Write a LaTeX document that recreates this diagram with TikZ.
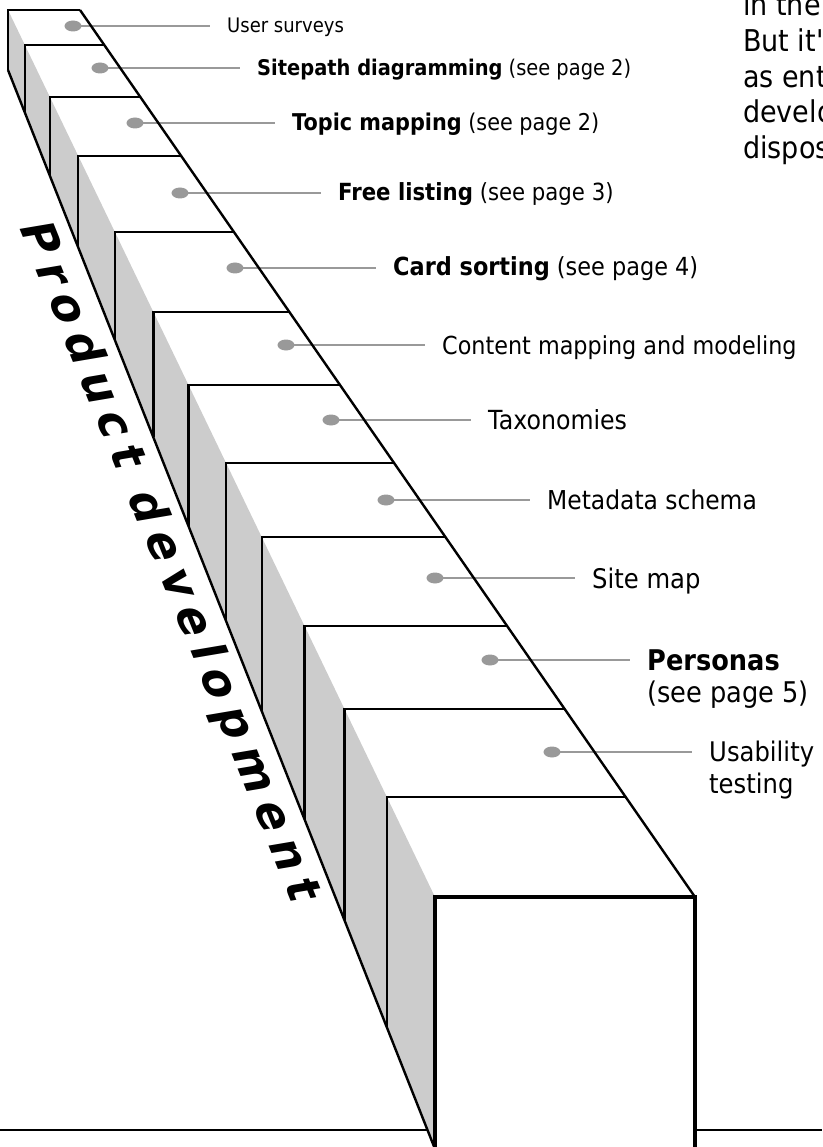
\documentclass[tikz,border=0pt]{standalone}
\usepackage{fontspec}
\setmainfont{DejaVu Sans}[FakeStretch=0.9]
\newfontfamily\spinefont{DejaVu Sans}[LetterSpace=22]
\usetikzlibrary{positioning,calc,shapes.geometric}
\definecolor{dotgray}{gray}{0.6}
\definecolor{sidegray}{gray}{0.8}

\begin{document}
\begin{tikzpicture}[x=1pt,y=-1pt,
  edge/.style={line width=2.4pt,line join=miter},
  frontedge/.style={line width=4.4pt,line join=miter},
  leader/.style={draw=dotgray,line width=2.8pt,shorten >=17pt},
  dot/.style={ellipse,fill=dotgray,minimum width=17pt,minimum height=11pt,inner sep=0pt},
  lbl/.style={anchor=base west,inner sep=0pt,align=left},
  para/.style={anchor=base west,inner sep=0pt,font=\fontsize{30}{36}\selectfont}]
  \useasboundingbox (0,0) rectangle (822,1147);
  \clip (0,0) rectangle (822,1147);
  % ---------------- grey side of the bar ----------------
  \fill[sidegray] (8,10) -- (435,897) -- (435,1149) -- (8,70) -- cycle;
  % ---------------- dots, leaders and labels ----------------
  % (baseline \by is that of the last line of the label)
  \foreach \n/\px/\py/\lx/\by/\fs/\txt in {
      1/73/26/227/33/20/{User surveys},
      2/100/68/257/76/21.6/{\textbf{Sitepath diagramming} (see page 2)},
      3/135/123/292/131/23.1/{\textbf{Topic mapping} (see page 2)},
      4/180/193/338/201/23.6/{\textbf{Free listing} (see page 3)},
      5/235/268/393/276/24.9/{\textbf{Card sorting} (see page 4)},
      6/286/345/442/354/24.8/{Content mapping and modeling},
      7/331/420/488/429/26.3/{Taxonomies},
      8/386/500/547/509/26/{Metadata schema},
      9/435/578/592/588/27/{Site map},
      10/490/660/647/702/28.5/{\textbf{Personas}\\(see page 5)},
      11/552/752/709/793/27/{Usability\\testing}}{
    \node[dot] (d\n) at (\px,\py) {};
    \node[lbl,font=\fontsize{\fs}{32}\selectfont] (l\n) at (\lx,\by) {\txt};
    \draw[leader] (d\n.center) -- (d\n -| l\n.west);
  }
  % ---------------- steps ----------------
  \foreach \yk in {10,45,97,156,232,312,385,463,537,626,709,797}{
    \pgfmathsetmacro\xk{8+0.4814*(\yk-10)}
    \pgfmathsetmacro\xr{80+0.6933*(\yk-10)}
    \pgfmathsetmacro\yb{70+(\xk-8)/0.3961}
    \draw[edge] (\xk,\yb) -- (\xk,\yk) -- (\xr,\yk);
  }
  \draw[edge] (80,10) -- (695,897);
  \draw[edge] (8,70) -- (435,1149);
  % front block and ground
  \draw[frontedge] (435,1160) -- (435,897) -- (695,897) -- (695,1160);
  \draw[line width=2pt] (0,1130) -- (428,1130);
  \draw[line width=2pt] (697,1130) -- (822,1130);
  % ---------------- spine text ----------------
  \begin{scope}[shift={(168,562)},rotate=-68,xslant=0.22]
    \node[inner sep=0pt,transform shape,font=\spinefont\bfseries\fontsize{46}{50}\selectfont] (spine) at (0,0) {Product development};
  \end{scope}
  % ---------------- running text at the right edge ----------------
  \node[para] (p1) at (743,16) {in the};
  \node[para] (p2) at (743,52) {But it\textquotesingle};
  \node[para] (p3) at (743,88) {as ent};
  \node[para] (p4) at (743,123) {develo};
  \node[para] (p5) at (743,159) {dispos};
\end{tikzpicture}
\end{document}
